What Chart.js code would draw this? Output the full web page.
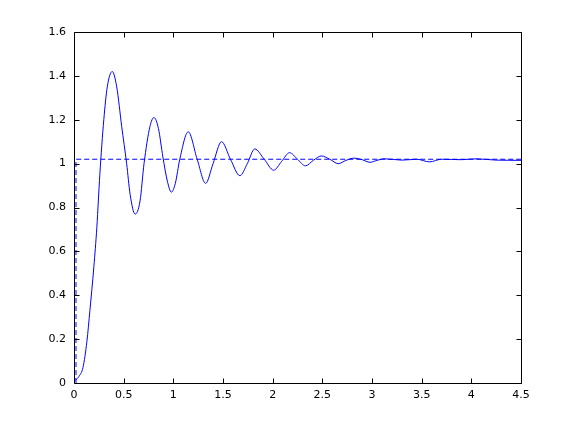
<!DOCTYPE html>
<html>
<head>
<meta charset="utf-8">
<script src="https://cdn.jsdelivr.net/npm/chart.js@4/dist/chart.umd.min.js"></script>
<style>
  html, body { margin: 0; padding: 0; background: #fff; }
  #wrap { width: 569px; height: 428px; }
</style>
</head>
<body>
<div id="wrap"><canvas id="c" width="569" height="428"></canvas></div>
<script>
// step response
const timeVals = [0, 0.02, 0.05, 0.09, 0.13, 0.16, 0.2, 0.23, 0.26, 0.3, 0.335, 0.385, 0.43, 0.48, 0.53, 0.565, 0.615, 0.665, 0.705, 0.765, 0.805, 0.85, 0.895, 0.94, 0.98, 1.02, 1.065, 1.15, 1.24, 1.325, 1.4, 1.485, 1.575, 1.67, 1.745, 1.82, 1.915, 2.01, 2.09, 2.17, 2.25, 2.33, 2.41, 2.49, 2.575, 2.66, 2.74, 2.82, 2.9, 2.98, 3.05, 3.13, 3.3, 3.45, 3.58, 3.7, 3.9, 4.05, 4.25, 4.5];
const responseVals = [0.01, 0.015, 0.03, 0.07, 0.19, 0.33, 0.53, 0.71, 0.95, 1.2, 1.35, 1.42, 1.35, 1.17, 1.0, 0.86, 0.77, 0.83, 1.0, 1.17, 1.21, 1.16, 1.03, 0.92, 0.87, 0.91, 1.02, 1.145, 1.02, 0.91, 1.0, 1.1, 1.02, 0.945, 1.0, 1.067, 1.02, 0.97, 1.01, 1.05, 1.02, 0.99, 1.015, 1.035, 1.02, 1.0, 1.015, 1.025, 1.018, 1.006, 1.015, 1.022, 1.016, 1.02, 1.008, 1.02, 1.018, 1.022, 1.016, 1.015];
// dashed reference step
const stepTime = [0.02, 0.02, 4.5];
const stepVals = [0, 1.02, 1.02];
// tick labels
const xTicks = [0, 0.5, 1, 1.5, 2, 2.5, 3, 3.5, 4, 4.5];
const yTicks = [0, 0.2, 0.4, 0.6, 0.8, 1, 1.2, 1.4, 1.6];

const toPts = (xs, ys) => xs.map((x, i) => ({ x: x, y: ys[i] }));

// box + inward ticks on all four sides, matlab style
const boxTicks = {
  id: 'boxTicks',
  afterDraw(chart) {
    const ctx = chart.ctx, a = chart.chartArea;
    const xs = chart.scales.x, ys = chart.scales.y;
    const L = Math.round(a.left) + 0.5, R = Math.round(a.right) + 0.5;
    const T = Math.round(a.top) + 0.5, B = Math.round(a.bottom) + 0.5;
    const len = 5;
    ctx.save();
    ctx.strokeStyle = '#000';
    ctx.lineWidth = 1;
    ctx.beginPath();
    ctx.rect(L, T, R - L, B - T);
    xTicks.forEach(v => {
      const px = Math.round(xs.getPixelForValue(v)) + 0.5;
      ctx.moveTo(px, B); ctx.lineTo(px, B - len);
      ctx.moveTo(px, T); ctx.lineTo(px, T + len);
    });
    yTicks.forEach(v => {
      const py = Math.round(ys.getPixelForValue(v)) + 0.5;
      ctx.moveTo(L, py); ctx.lineTo(L + len, py);
      ctx.moveTo(R, py); ctx.lineTo(R - len, py);
    });
    ctx.stroke();
    ctx.restore();
  }
};

const font = { family: '"DejaVu Sans", "Liberation Sans", Arial, sans-serif', size: 11 };

new Chart(document.getElementById('c'), {
  type: 'line',
  data: {
    datasets: [
      {
        data: toPts(timeVals, responseVals),
        borderColor: '#0000ff',
        borderWidth: 1,
        pointRadius: 0,
        cubicInterpolationMode: 'monotone',
        fill: false
      },
      {
        data: toPts(stepTime, stepVals),
        borderColor: '#0000ff',
        borderWidth: 1,
        borderDash: [5, 3],
        pointRadius: 0,
        tension: 0,
        fill: false
      }
    ]
  },
  options: {
    responsive: false,
    animation: false,
    layout: { padding: { top: 32, right: 48, left: 0, bottom: 0 } },
    plugins: { legend: { display: false }, tooltip: { enabled: false } },
    scales: {
      x: {
        type: 'linear', min: 0, max: 4.5,
        afterBuildTicks: s => { s.ticks = xTicks.map(v => ({ value: v })); },
        afterFit: s => { s.height = 45; },
        grid: { display: false, drawTicks: false },
        border: { display: false },
        ticks: { color: '#000', font: font, padding: 6, maxRotation: 0, autoSkip: false, callback: v => String(v) }
      },
      y: {
        type: 'linear', min: 0, max: 1.6,
        afterBuildTicks: s => { s.ticks = yTicks.map(v => ({ value: v })); },
        afterFit: s => { s.width = 74; },
        grid: { display: false, drawTicks: false },
        border: { display: false },
        ticks: { color: '#000', font: font, padding: 8, autoSkip: false, callback: v => String(v) }
      }
    }
  },
  plugins: [boxTicks]
});
</script>
</body>
</html>
